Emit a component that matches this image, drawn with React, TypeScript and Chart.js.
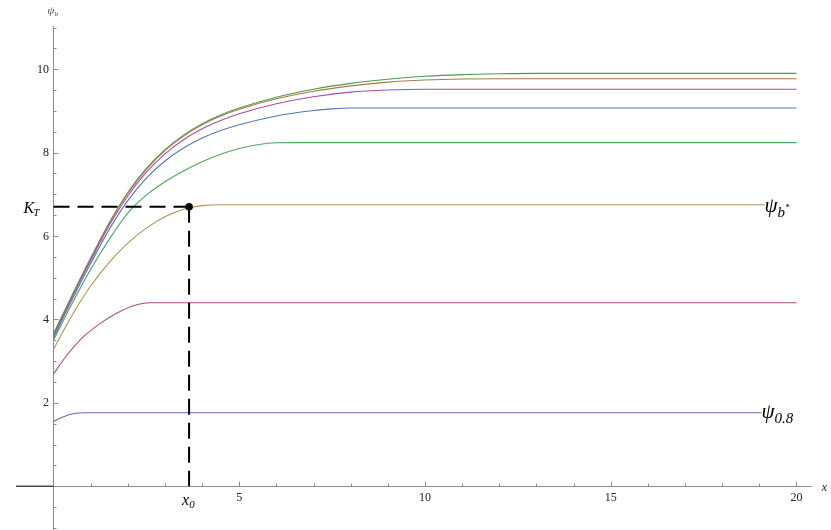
import React, { useEffect, useRef } from "react";
import { Chart, registerables } from "chart.js";

Chart.register(...registerables);

// ---- data ----
const blueLowX = [0, 0.2, 0.4, 0.6, 0.8, 20];
const blueLowY = [1.55, 1.64, 1.71, 1.75, 1.76, 1.76];

const magentaLowX = [0, 0.36, 0.8, 1.25, 1.7, 2.15, 2.6, 20];
const magentaLowY = [2.69, 3.14, 3.58, 3.9, 4.15, 4.33, 4.4, 4.4];

const oliveLowX = [0, 0.5, 1, 1.5, 2, 2.5, 3, 3.5, 3.65, 4, 4.5, 20];
const oliveLowY = [3.28, 4.1, 4.8, 5.37, 5.83, 6.19, 6.46, 6.64, 6.68, 6.73, 6.75, 6.75];

const greenLowX = [0, 0.5, 1, 1.5, 2, 2.5, 3, 3.5, 4, 4.5, 5, 5.5, 6, 6.5, 20];
const greenLowY = [3.5, 4.38, 5.2, 5.92, 6.55, 6.98, 7.3, 7.56, 7.78, 7.96, 8.1, 8.19, 8.235, 8.24, 8.24];

const blueHighX = [0, 0.5, 1, 1.5, 2, 2.5, 3, 3.5, 4, 4.5, 5, 6, 7, 7.5, 8, 20];
const blueHighY = [3.55, 4.47, 5.34, 6.16, 6.85, 7.39, 7.8, 8.11, 8.35, 8.53, 8.67, 8.88, 9.01, 9.05, 9.07, 9.07];

const magentaHighX = [0, 0.5, 1, 1.5, 2, 2.5, 3, 3.5, 4, 4.5, 5, 6, 7, 8, 9, 10, 20];
const magentaHighY = [3.6, 4.53, 5.41, 6.25, 6.96, 7.53, 7.97, 8.31, 8.57, 8.77, 8.93, 9.17, 9.34, 9.45, 9.5, 9.52, 9.52];

const oliveHighX = [0, 0.5, 1, 1.5, 2, 2.5, 3, 3.5, 4, 4.5, 5, 6, 7, 8, 9, 10, 11, 12, 20];
const oliveHighY = [3.63, 4.56, 5.45, 6.3, 7.02, 7.6, 8.05, 8.4, 8.67, 8.88, 9.04, 9.29, 9.47, 9.6, 9.69, 9.74, 9.765, 9.77, 9.77];

const greenHighX = [0, 0.5, 1, 1.5, 2, 2.5, 3, 3.5, 4, 4.5, 5, 6, 7, 8, 9, 10, 11, 12, 13, 20];
const greenHighY = [3.66, 4.58, 5.47, 6.32, 7.045, 7.62, 8.07, 8.42, 8.695, 8.905, 9.07, 9.33, 9.52, 9.66, 9.76, 9.83, 9.87, 9.89, 9.9, 9.9];

const negSegX = [-1.01, 0];
const negSegY = [0, 0];

const xTickLabels = [5, 10, 15, 20];
const yTickLabels = [2, 4, 6, 8, 10];

const K_T = 6.7;
const X_0 = 3.65;

const seriesColors = [
  "#6a6ab8", // psi 0.8
  "#ad4d86", // 4.4
  "#ad9457", // psi b*
  "#4fa65f", // 8.24
  "#5577b5", // 9.07
  "#a64da3", // 9.52
  "#a87a4a", // 9.77
  "#4c9c4c", // 9.9
];

function pts(xs: number[], ys: number[]) {
  return xs.map((x, i) => ({ x, y: ys[i] }));
}

const SERIF = '"Liberation Serif", "DejaVu Serif", serif';

const mathPlugin = {
  id: "mathAxes",
  beforeDatasetsDraw(chart: any) {
    const { ctx, scales } = chart;
    const sx = scales.x;
    const sy = scales.y;
    const px = (v: number) => sx.getPixelForValue(v);
    const py = (v: number) => sy.getPixelForValue(v);
    ctx.save();
    ctx.strokeStyle = "#8c8c8c";
    ctx.lineWidth = 1;
    const y0 = Math.round(py(0)) + 0.5;
    const x0 = Math.round(px(0)) + 0.5;
    ctx.beginPath();
    ctx.moveTo(px(-1.01), y0);
    ctx.lineTo(px(20.41), y0);
    ctx.moveTo(x0, py(11.03));
    ctx.lineTo(x0, py(-1.1));
    for (let v = 1; v <= 20; v++) {
      const p = Math.round(px(v)) + 0.5;
      ctx.moveTo(p, y0);
      ctx.lineTo(p, y0 - (v % 5 === 0 ? 5 : 3));
    }
    for (let k = -2; k <= 22; k++) {
      if (k === 0) continue;
      const v = k / 2;
      const p = Math.round(py(v)) + 0.5;
      ctx.moveTo(x0, p);
      ctx.lineTo(x0 + (k % 4 === 0 ? 5 : 3), p);
    }
    ctx.stroke();

    ctx.fillStyle = "#222";
    ctx.font = `12px ${SERIF}`;
    ctx.textAlign = "center";
    ctx.textBaseline = "middle";
    xTickLabels.forEach((v) => ctx.fillText(String(v), px(v), y0 + 11));
    ctx.textAlign = "right";
    yTickLabels.forEach((v) => ctx.fillText(String(v), x0 - 4.5, py(v) + 0.5));

    // axis labels
    ctx.textAlign = "left";
    ctx.textBaseline = "alphabetic";
    ctx.font = `italic 12px ${SERIF}`;
    ctx.fillText("x", px(20.41) + 10, y0 + 4);
    ctx.fillStyle = "#444";
    ctx.font = `italic 11px ${SERIF}`;
    ctx.fillText("ψ", x0 - 6, 14);
    ctx.font = `italic 7px ${SERIF}`;
    ctx.fillText("b", x0 + 1, 16);
    ctx.restore();
  },
  afterDatasetsDraw(chart: any) {
    const { ctx, scales } = chart;
    const sx = scales.x;
    const sy = scales.y;
    const px = (v: number) => sx.getPixelForValue(v);
    const py = (v: number) => sy.getPixelForValue(v);
    ctx.save();
    // dashed guide lines
    ctx.strokeStyle = "#000";
    ctx.lineWidth = 2;
    ctx.setLineDash([16, 8]);
    ctx.beginPath();
    ctx.moveTo(px(0), py(K_T));
    ctx.lineTo(px(X_0), py(K_T));
    ctx.stroke();
    ctx.beginPath();
    ctx.moveTo(px(X_0), py(K_T));
    ctx.lineTo(px(X_0), py(0));
    ctx.stroke();
    ctx.setLineDash([]);
    ctx.fillStyle = "#000";
    ctx.beginPath();
    ctx.arc(px(X_0), py(K_T), 3.8, 0, Math.PI * 2);
    ctx.fill();

    ctx.textBaseline = "alphabetic";
    ctx.textAlign = "left";
    ctx.fillStyle = "#000";
    // K_T
    ctx.font = `italic 16px ${SERIF}`;
    const kx = px(0) - 30;
    ctx.fillText("K", kx, py(K_T) + 6);
    const kw = ctx.measureText("K").width;
    ctx.font = `italic 11px ${SERIF}`;
    ctx.fillText("T", kx + kw - 1, py(K_T) + 9);

    // x_0
    ctx.font = `italic 16px ${SERIF}`;
    const xx = px(X_0) - 7;
    ctx.fillText("x", xx, py(0) + 19);
    const xw = ctx.measureText("x").width;
    ctx.font = `italic 11px ${SERIF}`;
    ctx.fillText("0", xx + xw, py(0) + 22);

    // psi b* label
    const lb = px(20) - 32;
    const yb = py(oliveLowY[oliveLowY.length - 1]);
    ctx.fillStyle = "#fff";
    ctx.fillRect(lb, yb - 4, 40, 8);
    ctx.fillStyle = "#000";
    ctx.font = `italic 21px ${SERIF}`;
    ctx.fillText("ψ", lb, yb + 7);
    const pw = ctx.measureText("ψ").width;
    ctx.font = `italic 15px ${SERIF}`;
    ctx.fillText("b", lb + pw, yb + 12);
    const bw = ctx.measureText("b").width;
    ctx.font = `italic 9px ${SERIF}`;
    ctx.fillText("*", lb + pw + bw, yb + 5);

    // psi 0.8 label
    const la = px(20) - 35;
    const ya = py(blueLowY[blueLowY.length - 1]);
    ctx.fillStyle = "#fff";
    ctx.fillRect(la, ya - 4, 40, 8);
    ctx.fillStyle = "#000";
    ctx.font = `italic 21px ${SERIF}`;
    ctx.fillText("ψ", la, ya + 5);
    const pw2 = ctx.measureText("ψ").width;
    ctx.font = `italic 15px ${SERIF}`;
    ctx.fillText("0.8", la + pw2, ya + 10);
    ctx.restore();
  },
};

export default function App() {
  const ref = useRef<HTMLCanvasElement | null>(null);
  useEffect(() => {
    document.body.style.margin = "0";
    if (!ref.current) return;
    const series = [
      [blueLowX, blueLowY],
      [magentaLowX, magentaLowY],
      [oliveLowX, oliveLowY],
      [greenLowX, greenLowY],
      [blueHighX, blueHighY],
      [magentaHighX, magentaHighY],
      [oliveHighX, oliveHighY],
      [greenHighX, greenHighY],
    ];
    const datasets: any[] = series.map(([xs, ys], i) => ({
      data: pts(xs, ys),
      borderColor: seriesColors[i],
      borderWidth: 1.1,
      pointRadius: 0,
      fill: false,
      cubicInterpolationMode: "monotone",
    }));
    datasets.unshift({
      data: pts(negSegX, negSegY),
      borderColor: "#4a4a40",
      borderWidth: 1.6,
      pointRadius: 0,
      fill: false,
    });
    const chart = new Chart(ref.current, {
      type: "line",
      data: { datasets },
      options: {
        animation: false,
        responsive: false,
        devicePixelRatio: 1,
        parsing: false as any,
        layout: { padding: 0 },
        plugins: { legend: { display: false }, tooltip: { enabled: false } },
        scales: {
          x: { type: "linear", min: -1.44, max: 20.93, display: false },
          y: { type: "linear", min: -1.05, max: 11.66, display: false },
        },
      },
      plugins: [mathPlugin],
    });
    return () => chart.destroy();
  }, []);
  return (
    <div style={{ width: 831, height: 530, background: "#fff" }}>
      <canvas ref={ref} width={831} height={530} style={{ display: "block" }} />
    </div>
  );
}
